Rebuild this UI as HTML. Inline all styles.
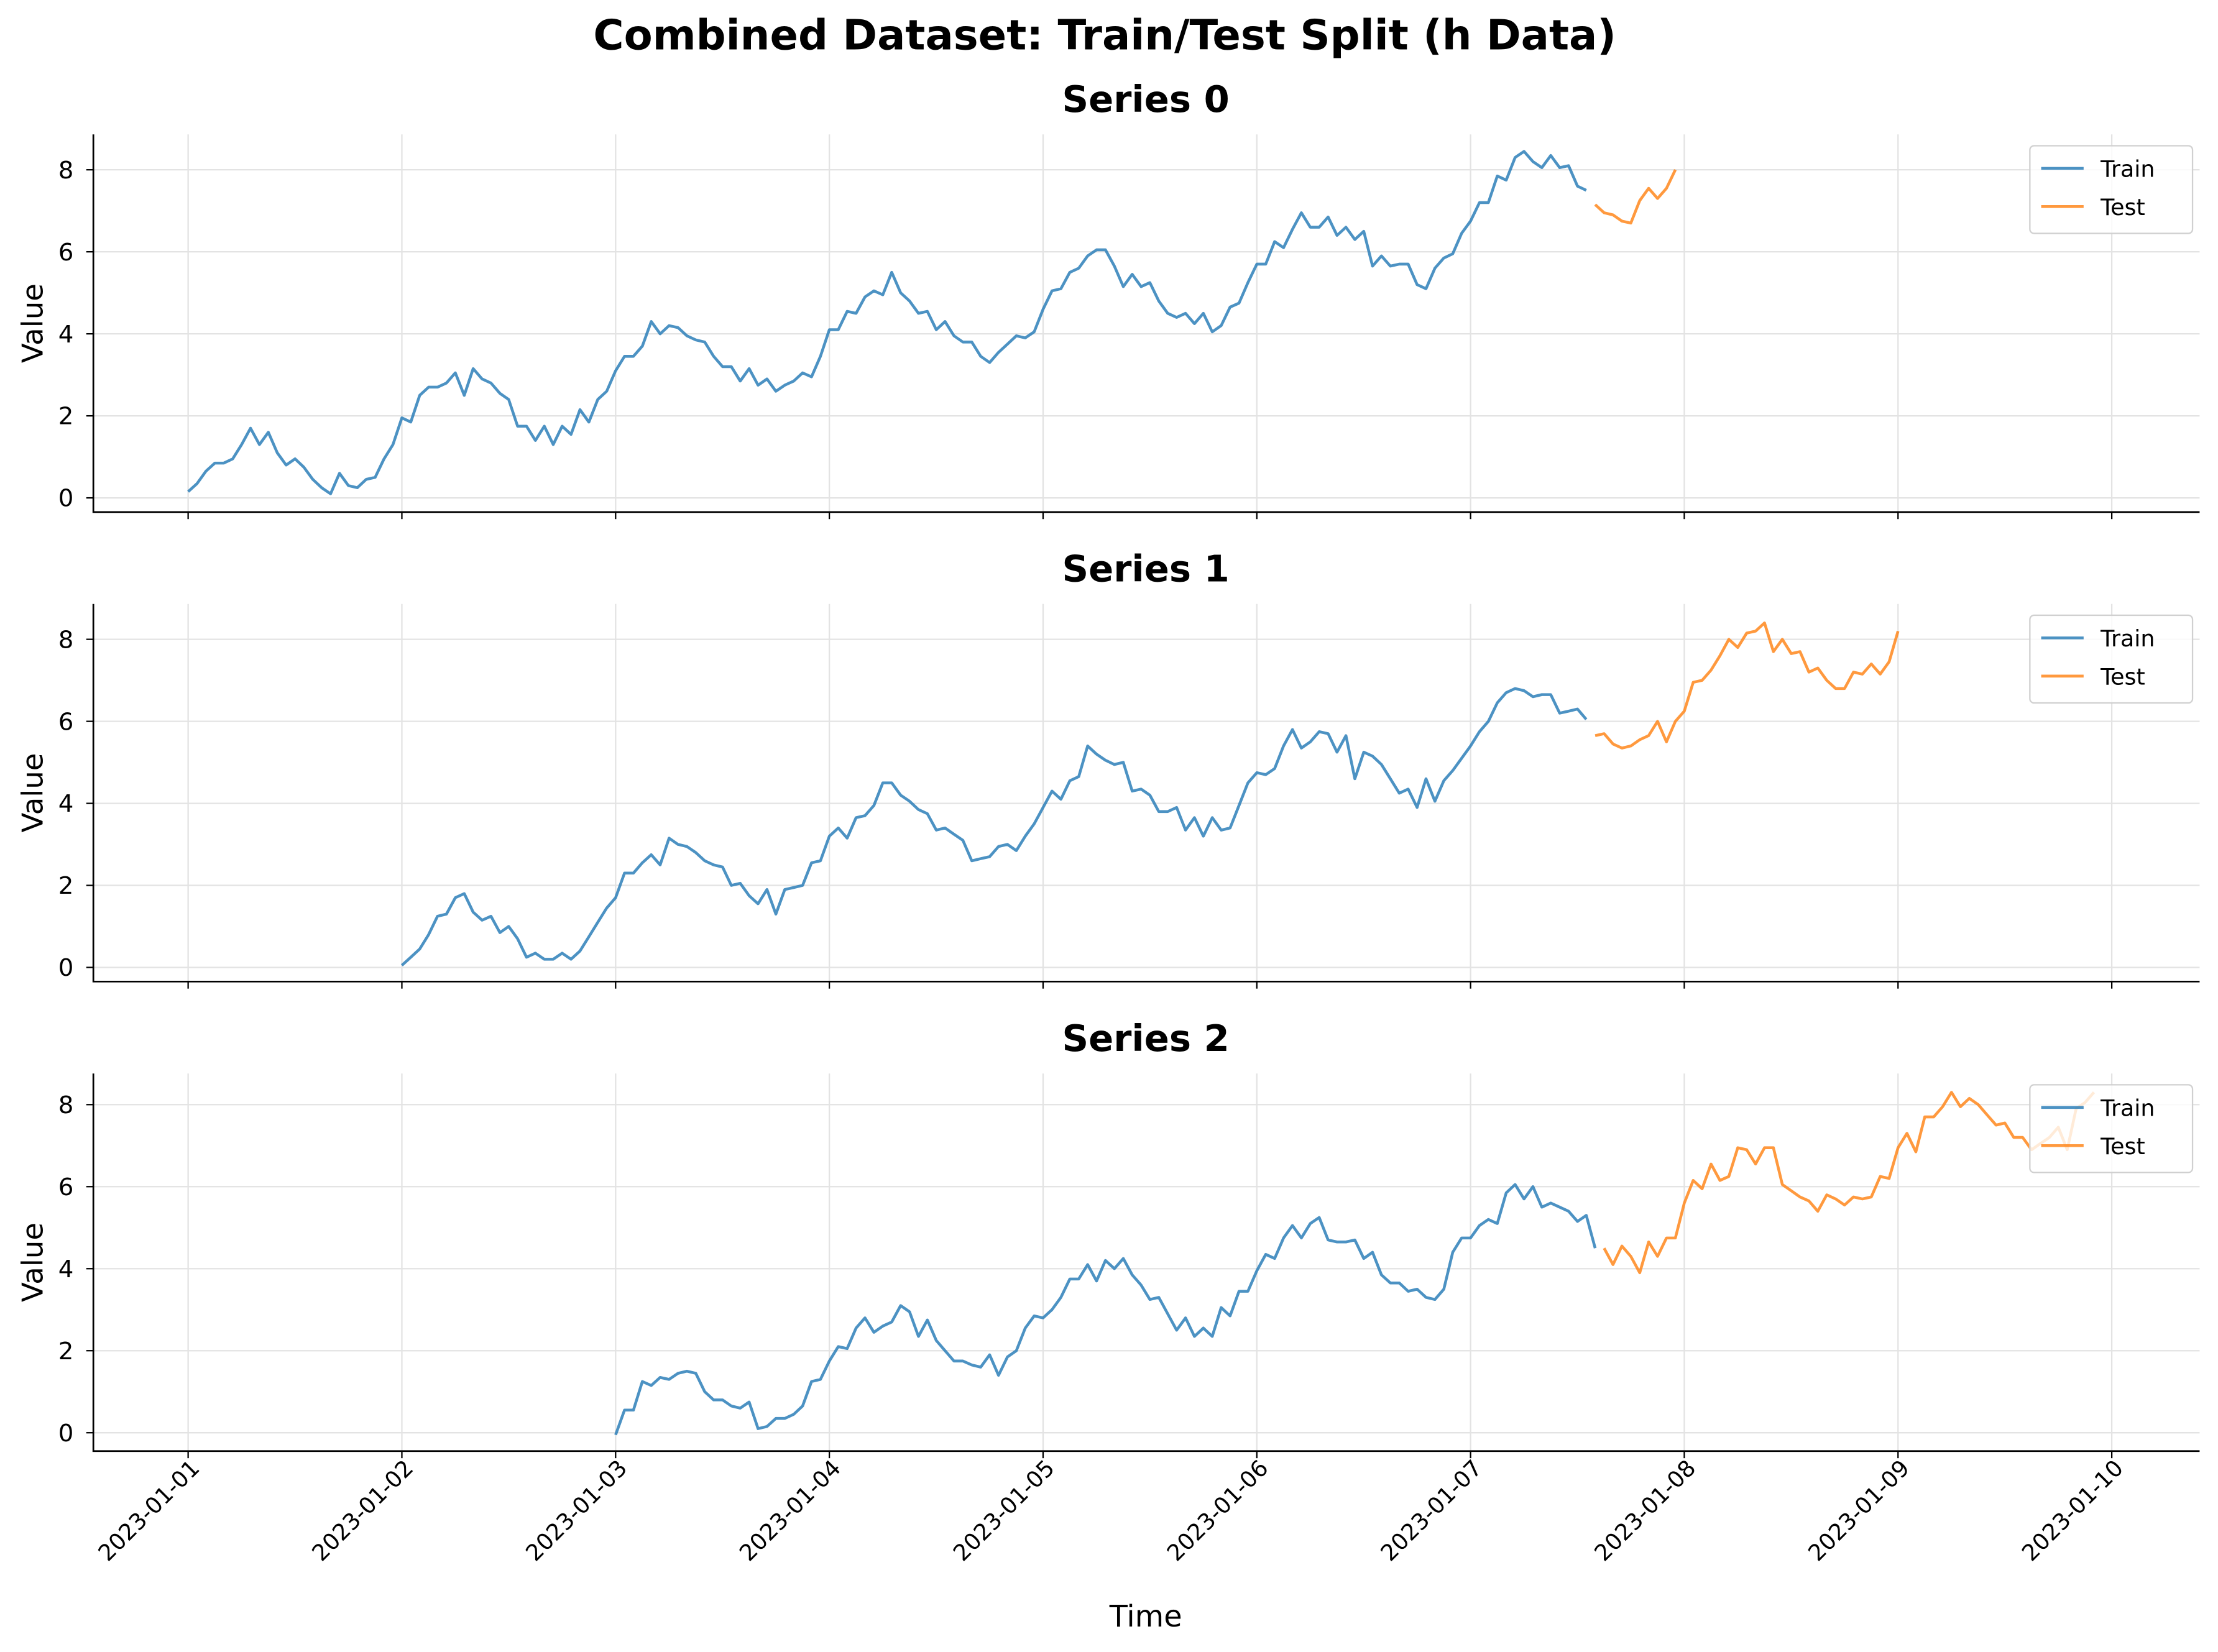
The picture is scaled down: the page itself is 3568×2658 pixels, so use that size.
<!DOCTYPE html>
<html><head><meta charset="utf-8"><style>
html,body{margin:0;padding:0;background:#fff;}
svg{display:block;font-family:"DejaVu Sans","Liberation Sans",sans-serif;}
</style></head><body>
<svg id="chart" width="3568" height="2658" viewBox="0 0 1568 1168" xmlns="http://www.w3.org/2000/svg">
<rect width="1568" height="1168" fill="#fff"/>
<text x="781" y="35" text-anchor="middle" font-size="29.5" font-weight="bold">Combined Dataset: Train/Test Split (h Data)</text>
<text x="810" y="1150" text-anchor="middle" font-size="21">Time</text>
</svg>
<script>
const dayLabels=["2023-01-01","2023-01-02","2023-01-03","2023-01-04","2023-01-05","2023-01-06","2023-01-07","2023-01-08","2023-01-09","2023-01-10"];
const yTicks=[0,2,4,6,8];
const s0Start=0;
const s0Train=[0.15,0.35,0.65,0.85,0.85,0.95,1.3,1.7,1.3,1.6,1.1,0.8,0.95,0.75,0.45,0.25,0.1,0.6,0.3,0.25,0.45,0.5,0.95,1.3,1.95,1.85,2.5,2.7,2.7,2.8,3.05,2.5,3.15,2.9,2.8,2.55,2.4,1.75,1.75,1.4,1.75,1.3,1.75,1.55,2.15,1.85,2.4,2.6,3.1,3.45,3.45,3.7,4.3,4.0,4.2,4.15,3.95,3.85,3.8,3.45,3.2,3.2,2.85,3.15,2.75,2.9,2.6,2.75,2.85,3.05,2.95,3.45,4.1,4.1,4.55,4.5,4.9,5.05,4.95,5.5,5.0,4.8,4.5,4.55,4.1,4.3,3.95,3.8,3.8,3.45,3.3,3.55,3.75,3.95,3.9,4.05,4.6,5.05,5.1,5.5,5.6,5.9,6.05,6.05,5.65,5.15,5.45,5.15,5.25,4.8,4.5,4.4,4.5,4.25,4.5,4.05,4.2,4.65,4.75,5.25,5.7,5.7,6.25,6.1,6.55,6.95,6.6,6.6,6.85,6.4,6.6,6.3,6.5,5.65,5.9,5.65,5.7,5.7,5.2,5.1,5.6,5.85,5.95,6.45,6.75,7.2,7.2,7.85,7.75,8.3,8.45,8.2,8.05,8.35,8.05,8.1,7.6,7.5];
const s0Test=[7.15,6.95,6.9,6.75,6.7,7.25,7.55,7.3,7.55,8.0];
const s1Start=24;
const s1Train=[0.05,0.25,0.45,0.8,1.25,1.3,1.7,1.8,1.35,1.15,1.25,0.85,1.0,0.7,0.25,0.35,0.2,0.2,0.35,0.2,0.4,0.75,1.1,1.45,1.7,2.3,2.3,2.55,2.75,2.5,3.15,3.0,2.95,2.8,2.6,2.5,2.45,2.0,2.05,1.75,1.55,1.9,1.3,1.9,1.95,2.0,2.55,2.6,3.2,3.4,3.15,3.65,3.7,3.95,4.5,4.5,4.2,4.05,3.85,3.75,3.35,3.4,3.25,3.1,2.6,2.65,2.7,2.95,3.0,2.85,3.2,3.5,3.9,4.3,4.1,4.55,4.65,5.4,5.2,5.05,4.95,5.0,4.3,4.35,4.2,3.8,3.8,3.9,3.35,3.65,3.2,3.65,3.35,3.4,3.95,4.5,4.75,4.7,4.85,5.4,5.8,5.35,5.5,5.75,5.7,5.25,5.65,4.6,5.25,5.15,4.95,4.6,4.25,4.35,3.9,4.6,4.05,4.55,4.8,5.1,5.4,5.75,6.0,6.45,6.7,6.8,6.75,6.6,6.65,6.65,6.2,6.25,6.3,6.05];
const s1Test=[5.65,5.7,5.45,5.35,5.4,5.55,5.65,6.0,5.5,6.0,6.25,6.95,7.0,7.25,7.6,8.0,7.8,8.15,8.2,8.4,7.7,8.0,7.65,7.7,7.2,7.3,7.0,6.8,6.8,7.2,7.15,7.4,7.15,7.45,8.2];
const s2Start=48;
const s2Train=[-0.05,0.55,0.55,1.25,1.15,1.35,1.3,1.45,1.5,1.45,1.0,0.8,0.8,0.65,0.6,0.75,0.1,0.15,0.35,0.35,0.45,0.65,1.25,1.3,1.75,2.1,2.05,2.55,2.8,2.45,2.6,2.7,3.1,2.95,2.35,2.75,2.25,2.0,1.75,1.75,1.65,1.6,1.9,1.4,1.85,2.0,2.55,2.85,2.8,3.0,3.3,3.75,3.75,4.1,3.7,4.2,4.0,4.25,3.85,3.6,3.25,3.3,2.9,2.5,2.8,2.35,2.55,2.35,3.05,2.85,3.45,3.45,3.95,4.35,4.25,4.75,5.05,4.75,5.1,5.25,4.7,4.65,4.65,4.7,4.25,4.4,3.85,3.65,3.65,3.45,3.5,3.3,3.25,3.5,4.4,4.75,4.75,5.05,5.2,5.1,5.85,6.05,5.7,6.0,5.5,5.6,5.5,5.4,5.15,5.3,4.5];
const s2Test=[4.5,4.1,4.55,4.3,3.9,4.65,4.3,4.75,4.75,5.6,6.15,5.95,6.55,6.15,6.25,6.95,6.9,6.55,6.95,6.95,6.05,5.9,5.75,5.65,5.4,5.8,5.7,5.55,5.75,5.7,5.75,6.25,6.2,6.95,7.3,6.85,7.7,7.7,7.95,8.3,7.95,8.15,8.0,7.75,7.5,7.55,7.2,7.2,6.9,7.05,7.2,7.45,6.9,7.9,8.05,8.3];

const NS="http://www.w3.org/2000/svg";
const svg=document.getElementById('chart');
function mk(tag,attrs,parent){const e=document.createElementNS(NS,tag);for(const k in attrs)e.setAttribute(k,attrs[k]);(parent||svg).appendChild(e);return e;}
const L=66,R=1555;
function xh(h){return 133+151.1*h/24;}
const panels=[
 {top:95,bot:362,y0:352,start:s0Start,train:s0Train,test:s0Test,title:"Series 0"},
 {top:427,bot:694,y0:684,start:s1Start,train:s1Train,test:s1Test,title:"Series 1"},
 {top:759,bot:1026,y0:1013,start:s2Start,train:s2Train,test:s2Test,title:"Series 2"}];
panels.forEach((p,pi)=>{
 const g=mk('g',{});
 
 
 const yv=v=>p.y0-v*29;
 dayLabels.forEach((d,i)=>{
  const x=xh(i*24);
  const gl=mk('line',{x1:x,x2:x,y1:p.top,y2:p.bot,stroke:'#e3e3e3','stroke-width':1},g);
  
  
  const tk=mk('line',{x1:x,x2:x,y1:p.bot,y2:p.bot+5,stroke:'#000','stroke-width':1},g);
  
  
  if(pi===2){
   const tx=x+9,ty=p.bot+13;
   const t=mk('text',{x:tx,y:ty,'font-size':16,'text-anchor':'end',transform:`rotate(-45 ${tx} ${ty})`},g);
   t.textContent=d;
   
   
  }
 });
 yTicks.forEach(v=>{
  const y=yv(v);
  const gl=mk('line',{x1:L,x2:R,y1:y,y2:y,stroke:'#e3e3e3','stroke-width':1},g);
  
  
  mk('line',{x1:L-5,x2:L,y1:y,y2:y,stroke:'#000','stroke-width':1},g);
  const t=mk('text',{x:L-14,y:y+6,'font-size':17,'text-anchor':'end'},g);
  t.textContent=v;
  
  
 });
 const ax=mk('path',{d:`M${L} ${p.top}V${p.bot}H${R}`,fill:'none',stroke:'#000','stroke-width':1.2},g);
 
 
 const cy=(p.top+p.bot)/2;
 const yl=mk('text',{x:30,y:cy,'font-size':20.5,'text-anchor':'middle',transform:`rotate(-90 30 ${cy})`},g);
 yl.textContent='Value';
 
 
 const st=mk('text',{x:810,y:p.top-16,'font-size':26,'font-weight':'bold','text-anchor':'middle'},g);
 st.textContent=p.title;
 
 
 const trPts=p.train.map((v,i)=>xh(p.start+i).toFixed(1)+','+yv(v).toFixed(1)).join(' ');
 const tr=mk('polyline',{points:trPts,fill:'none',stroke:'#1f77b4','stroke-opacity':0.8,'stroke-width':2,'stroke-linejoin':'round'},g);
 
 
 const ts0=p.start+p.train.length;
 const tePts=p.test.map((v,i)=>xh(ts0+i).toFixed(1)+','+yv(v).toFixed(1)).join(' ');
 const te=mk('polyline',{points:tePts,fill:'none',stroke:'#ff7f0e','stroke-opacity':0.8,'stroke-width':2,'stroke-linejoin':'round'},g);
 
 
 const lg=mk('g',{},g);
 
 
 mk('rect',{x:1435,y:p.top+8,width:115,height:62,rx:3,fill:'#fff','fill-opacity':0.8,stroke:'#d0d0d0'},lg);
 [['Train','#1f77b4'],['Test','#ff7f0e']].forEach((e,k)=>{
  const yy=p.top+24+k*27;
  const ln=mk('line',{x1:1443,x2:1473,y1:yy,y2:yy,stroke:e[1],'stroke-opacity':0.8,'stroke-width':2},lg);
  
  
  const t=mk('text',{x:1485,y:yy+6,'font-size':16},lg);
  t.textContent=e[0];
  
  
 });
});
</script>
</body></html>
